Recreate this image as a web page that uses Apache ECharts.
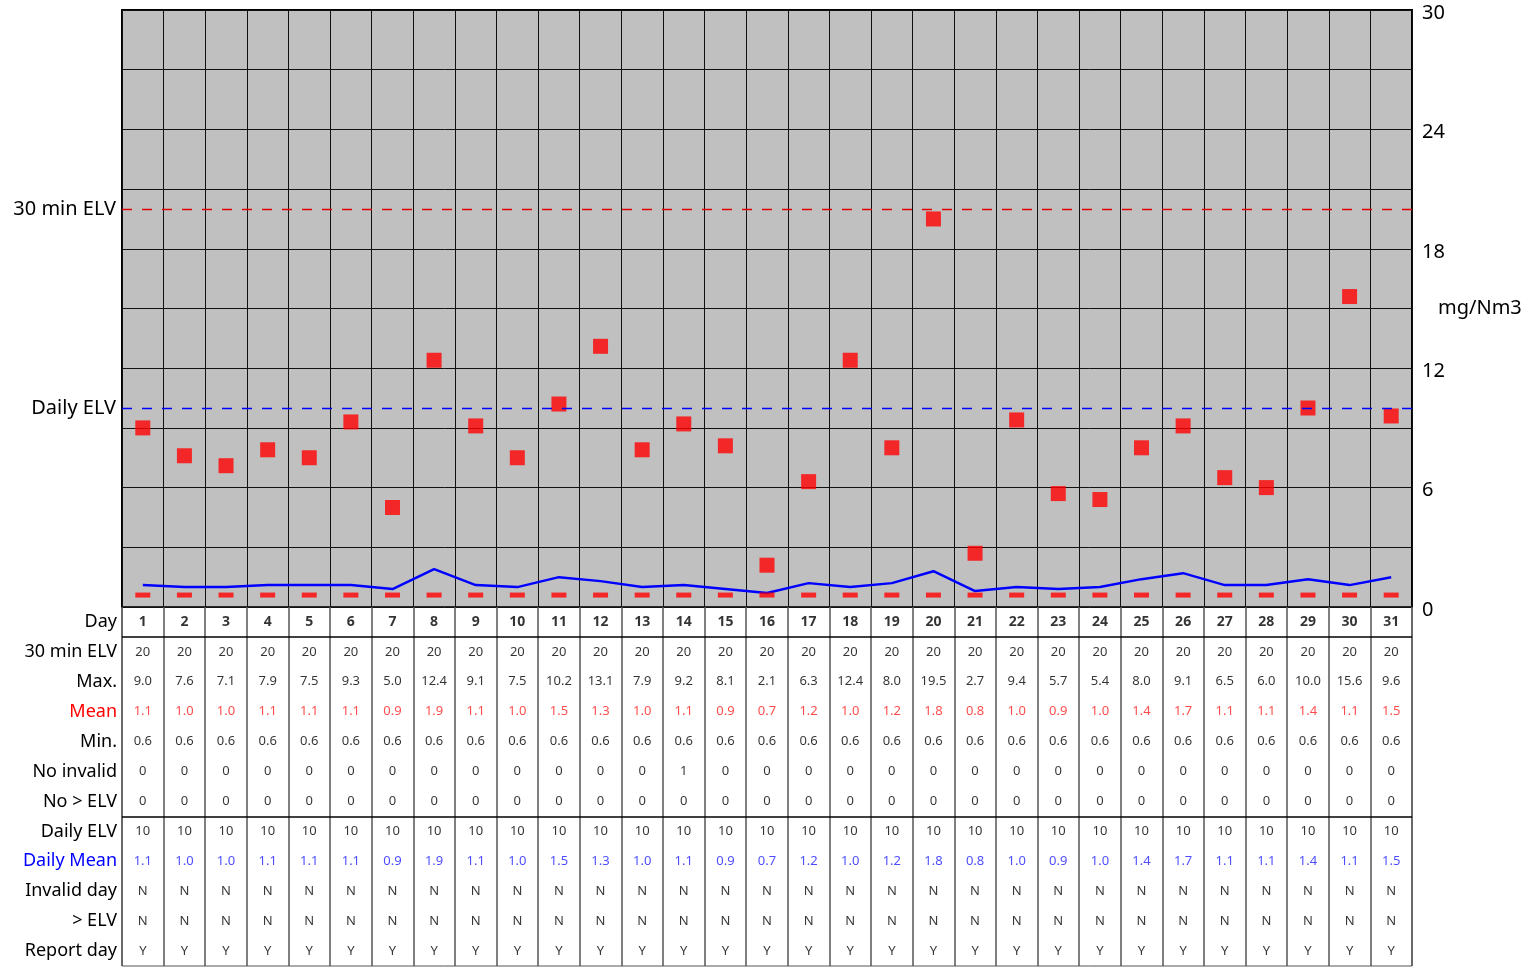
<!DOCTYPE html>
<html>
<head>
<meta charset="utf-8">
<script src="https://cdn.jsdelivr.net/npm/echarts@6/dist/echarts.min.js"></script>
<style>
html,body{margin:0;padding:0;background:#fff;}
#chart{width:1529px;height:967px;}
</style>
</head>
<body>
<div id="chart"></div>
<script>
const days = ['1','2','3','4','5','6','7','8','9','10','11','12','13','14','15','16','17','18','19','20','21','22','23','24','25','26','27','28','29','30','31'];
const maxVals = [9.0,7.6,7.1,7.9,7.5,9.3,5.0,12.4,9.1,7.5,10.2,13.1,7.9,9.2,8.1,2.1,6.3,12.4,8.0,19.5,2.7,9.4,5.7,5.4,8.0,9.1,6.5,6.0,10.0,15.6,9.6];
const meanVals = [1.1,1.0,1.0,1.1,1.1,1.1,0.9,1.9,1.1,1.0,1.5,1.3,1.0,1.1,0.9,0.7,1.2,1.0,1.2,1.8,0.8,1.0,0.9,1.0,1.4,1.7,1.1,1.1,1.4,1.1,1.5];
const minVals = [0.6,0.6,0.6,0.6,0.6,0.6,0.6,0.6,0.6,0.6,0.6,0.6,0.6,0.6,0.6,0.6,0.6,0.6,0.6,0.6,0.6,0.6,0.6,0.6,0.6,0.6,0.6,0.6,0.6,0.6,0.6];
const elv30 = [20,20,20,20,20,20,20,20,20,20,20,20,20,20,20,20,20,20,20,20,20,20,20,20,20,20,20,20,20,20,20];
const dailyElv = [10,10,10,10,10,10,10,10,10,10,10,10,10,10,10,10,10,10,10,10,10,10,10,10,10,10,10,10,10,10,10];
const dailyMean = [1.1,1.0,1.0,1.1,1.1,1.1,0.9,1.9,1.1,1.0,1.5,1.3,1.0,1.1,0.9,0.7,1.2,1.0,1.2,1.8,0.8,1.0,0.9,1.0,1.4,1.7,1.1,1.1,1.4,1.1,1.5];
const noInvalid = [0,0,0,0,0,0,0,0,0,0,0,0,0,1,0,0,0,0,0,0,0,0,0,0,0,0,0,0,0,0,0];
const noAboveElv = [0,0,0,0,0,0,0,0,0,0,0,0,0,0,0,0,0,0,0,0,0,0,0,0,0,0,0,0,0,0,0];
const invalidDay = ['N','N','N','N','N','N','N','N','N','N','N','N','N','N','N','N','N','N','N','N','N','N','N','N','N','N','N','N','N','N','N'];
const aboveElvDay = ['N','N','N','N','N','N','N','N','N','N','N','N','N','N','N','N','N','N','N','N','N','N','N','N','N','N','N','N','N','N','N'];
const reportDay = ['Y','Y','Y','Y','Y','Y','Y','Y','Y','Y','Y','Y','Y','Y','Y','Y','Y','Y','Y','Y','Y','Y','Y','Y','Y','Y','Y','Y','Y','Y','Y'];
const rowLabels = ['Day','30 min ELV','Max.','Mean','Min.','No invalid','No > ELV','Daily ELV','Daily Mean','Invalid day','> ELV','Report day'];
const yTicks = [0,6,12,18,24,30];
const limit30 = 20, limitDaily = 10;

const f1 = v => v.toFixed(1);
const rows = [
  {vals: days, color:'#000', bold:true},
  {vals: elv30.map(String), color:'#000'},
  {vals: maxVals.map(f1), color:'#000'},
  {vals: meanVals.map(f1), color:'#ff2020'},
  {vals: minVals.map(f1), color:'#000'},
  {vals: noInvalid.map(String), color:'#000'},
  {vals: noAboveElv.map(String), color:'#000'},
  {vals: dailyElv.map(String), color:'#000'},
  {vals: dailyMean.map(f1), color:'#2020ff'},
  {vals: invalidDay, color:'#000'},
  {vals: aboveElvDay, color:'#000'},
  {vals: reportDay, color:'#000'}
];

const FONT = 'Noto Sans';
const tableSeries = rows.map((r, ri) => ({
  type:'scatter', xAxisIndex:1, yAxisIndex:2, silent:true,
  symbolSize:1, itemStyle:{color:'rgba(0,0,0,0)'},
  data: r.vals.map((t, di) => [di, ri + 0.5, t]),
  label:{show:true, position:'inside', formatter: p => p.value[2],
    color:r.color, fontFamily:FONT, fontSize: r.bold ? 14 : 13, fontWeight: r.bold ? 'bold' : 'normal'},
  markLine: ri === 0 ? {silent:true, symbol:'none', label:{show:false},
    lineStyle:{color:'#000', width:1.5, type:'solid'},
    data:[{yAxis:1},{yAxis:7}]} : undefined
}));

const chart = echarts.init(document.getElementById('chart'));
chart.setOption({
  animation:false,
  backgroundColor:'#fff',
  textStyle:{fontFamily:FONT},
  grid:[
    {left:122, top:10, width:1290, height:597, show:true, backgroundColor:'#c0c0c0', borderColor:'#000', borderWidth:2, outerBoundsMode:'none', containLabel:false},
    {left:122, top:607, width:1290, height:359, show:true, backgroundColor:'#fff', borderColor:'#555', borderWidth:1, outerBoundsMode:'none', containLabel:false}
  ],
  xAxis:[
    {type:'category', gridIndex:0, data:days, boundaryGap:true,
      axisLine:{show:false}, axisTick:{show:false}, axisLabel:{show:false},
      splitLine:{show:true, lineStyle:{color:'#111', width:1}}},
    {type:'category', gridIndex:1, data:days, boundaryGap:true,
      axisLine:{show:false}, axisTick:{show:false}, axisLabel:{show:false},
      splitLine:{show:true, lineStyle:{color:'#555', width:1.5}}}
  ],
  yAxis:[
    {type:'value', gridIndex:0, position:'right', min:0, max:30, interval:3,
      name:'mg/Nm3', nameLocation:'middle', nameRotate:0, nameGap:26, nameMoveOverlap:false,
      nameTextStyle:{fontSize:20, color:'#000', fontFamily:FONT},
      axisLine:{show:false}, axisTick:{show:false},
      axisLabel:{fontSize:20, color:'#000', margin:10, fontFamily:FONT,
        formatter: v => yTicks.indexOf(v) >= 0 ? '{a|' + v + '}' : '',
        rich:{a:{fontSize:20, color:'#000', fontFamily:FONT, padding:[6,0,0,0]}}},
      splitLine:{show:true, lineStyle:{color:'#111', width:1}}},
    {type:'category', gridIndex:1, data:rowLabels, inverse:true, position:'left',
      axisLine:{show:false}, axisTick:{show:false}, splitLine:{show:false},
      axisLabel:{fontSize:18, color:'#000', margin:5, fontFamily:FONT,
        formatter: v => v === 'Mean' ? '{r|Mean}' : (v === 'Daily Mean' ? '{b|Daily Mean}' : v),
        rich:{r:{color:'#ff0000', fontSize:18, fontFamily:FONT}, b:{color:'#0000ff', fontSize:18, fontFamily:FONT}}}},
    {type:'value', gridIndex:1, min:0, max:12, inverse:true, show:false, position:'right'}
  ],
  series:[
    {type:'line', name:'Mean', xAxisIndex:0, yAxisIndex:0, data:meanVals, symbol:'none',
      lineStyle:{color:'#0000ff', width:2.5}, silent:true, z:3,
      markLine:{silent:true, symbol:'none',
        label:{show:true, position:'start', formatter:'{b}', color:'#000', fontSize:20, fontFamily:FONT, distance:6},
        data:[
          {name:'30 min ELV', yAxis:limit30, lineStyle:{color:'#e00000', type:[10,10], width:1.3}},
          {name:'Daily ELV', yAxis:limitDaily, lineStyle:{color:'#0000ff', type:[10,10], width:1.3}}
        ]}},
    {type:'scatter', name:'Max', xAxisIndex:0, yAxisIndex:0, data:maxVals, symbol:'rect', symbolSize:15,
      itemStyle:{color:'#ff0000'}, silent:true, z:4},
    {type:'scatter', name:'Min', xAxisIndex:0, yAxisIndex:0, data:minVals, symbol:'rect', symbolSize:[15,5],
      itemStyle:{color:'#ff0000'}, silent:true, z:4}
  ].concat(tableSeries)
});
</script>
</body>
</html>
